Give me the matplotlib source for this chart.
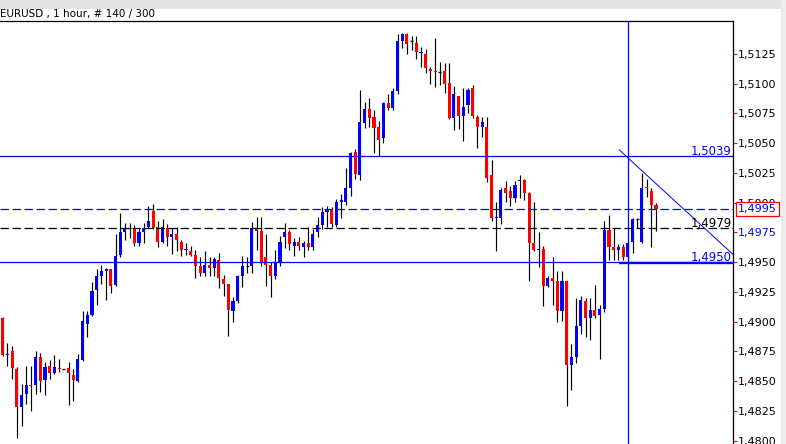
import matplotlib
matplotlib.use('Agg')
import matplotlib.pyplot as plt
from matplotlib.patches import Rectangle
import numpy as np

# ---------------- data (EURUSD, H1, 140 bars) ----------------
opens = [1.4903, 1.4872, 1.4875, 1.4860, 1.4828, 1.4839, 1.4847, 1.4847, 1.4870, 1.4851,
         1.4863, 1.4857, 1.4861, 1.4860, 1.4861, 1.4855, 1.4850, 1.4868, 1.4898, 1.4906,
         1.4927, 1.4938, 1.4943, 1.4944, 1.4931, 1.4956, 1.4975, 1.4979, 1.4979, 1.4966,
         1.4975, 1.4980, 1.4993, 1.4980, 1.4967, 1.4979, 1.4971, 1.4974, 1.4967, 1.4960,
         1.4959, 1.4956, 1.4947, 1.4941, 1.4948, 1.4945, 1.4952, 1.4936, 1.4932, 1.4909,
         1.4917, 1.4938, 1.4947, 1.4947, 1.4978, 1.4976, 1.4954, 1.4948, 1.4938, 1.4950,
         1.4971, 1.4975, 1.4964, 1.4967, 1.4963, 1.4966, 1.4963, 1.4975, 1.4981, 1.4992,
         1.4995, 1.4981, 1.5001, 1.5001, 1.5012, 1.5043, 1.5023, 1.5067, 1.5079, 1.5072,
         1.5064, 1.5054, 1.5084, 1.5080, 1.5094, 1.5136, 1.5142, 1.5136, 1.5134, 1.5126,
         1.5125, 1.5112, 1.5111, 1.5110, 1.5111, 1.5101, 1.5071, 1.5090, 1.5073, 1.5082,
         1.5096, 1.5072, 1.5064, 1.5064, 1.5023, 1.4987, 1.4987, 1.5012, 1.5010, 1.5004,
         1.5018, 1.5019, 1.5008, 1.4966, 1.4960, 1.4961, 1.4930, 1.4937, 1.4934, 1.4909,
         1.4934, 1.4864, 1.4870, 1.4896, 1.4917, 1.4903, 1.4910, 1.4906, 1.4911, 1.4977,
         1.4963, 1.4960, 1.4963, 1.4954, 1.4967, 1.4986, 1.4967, 1.5013, 1.5010, 1.4998]
highs = [1.4904, 1.4882, 1.4880, 1.4862, 1.4848, 1.4863, 1.4863, 1.4875, 1.4874, 1.4866,
         1.4868, 1.4872, 1.4869, 1.4860, 1.4866, 1.4860, 1.4873, 1.4909, 1.4909, 1.4933,
         1.4944, 1.4948, 1.4945, 1.4944, 1.4974, 1.4991, 1.4983, 1.4983, 1.4981, 1.4979,
         1.4983, 1.4997, 1.4999, 1.4985, 1.4986, 1.4982, 1.4979, 1.4980, 1.4969, 1.4966,
         1.4964, 1.4960, 1.4954, 1.4959, 1.4954, 1.4954, 1.4958, 1.4939, 1.4932, 1.4921,
         1.4939, 1.4955, 1.4954, 1.4984, 1.4988, 1.4988, 1.4974, 1.4950, 1.4960, 1.4972,
         1.4983, 1.4977, 1.4970, 1.4971, 1.4968, 1.4980, 1.4978, 1.4988, 1.4996, 1.4997,
         1.4996, 1.5003, 1.5007, 1.5029, 1.5043, 1.5045, 1.5095, 1.5085, 1.5088, 1.5078,
         1.5069, 1.5085, 1.5091, 1.5096, 1.5142, 1.5143, 1.5143, 1.5140, 1.5140, 1.5131,
         1.5129, 1.5114, 1.5138, 1.5118, 1.5117, 1.5117, 1.5098, 1.5090, 1.5096, 1.5096,
         1.5099, 1.5074, 1.5072, 1.5072, 1.5036, 1.5001, 1.5012, 1.5018, 1.5014, 1.5018,
         1.5023, 1.5020, 1.5009, 1.5001, 1.4975, 1.4964, 1.4938, 1.4954, 1.4943, 1.4943,
         1.4934, 1.4881, 1.4920, 1.4922, 1.4920, 1.4920, 1.4931, 1.4914, 1.4985, 1.4990,
         1.4979, 1.4965, 1.4965, 1.4967, 1.4987, 1.4987, 1.5025, 1.5020, 1.5012, 1.5000]
lows = [1.4871, 1.4863, 1.4852, 1.4802, 1.4812, 1.4831, 1.4825, 1.4839, 1.4841, 1.4838,
        1.4852, 1.4856, 1.4858, 1.4860, 1.4830, 1.4833, 1.4849, 1.4867, 1.4887, 1.4905,
        1.4914, 1.4932, 1.4918, 1.4924, 1.4930, 1.4954, 1.4969, 1.4970, 1.4964, 1.4964,
        1.4966, 1.4979, 1.4978, 1.4963, 1.4966, 1.4964, 1.4957, 1.4959, 1.4955, 1.4956,
        1.4955, 1.4937, 1.4938, 1.4938, 1.4938, 1.4938, 1.4928, 1.4922, 1.4888, 1.4900,
        1.4916, 1.4929, 1.4941, 1.4941, 1.4960, 1.4947, 1.4930, 1.4921, 1.4936, 1.4947,
        1.4962, 1.4960, 1.4955, 1.4960, 1.4954, 1.4960, 1.4960, 1.4971, 1.4978, 1.4980,
        1.4980, 1.4980, 1.4987, 1.4998, 1.5006, 1.5020, 1.5019, 1.5063, 1.5064, 1.5042,
        1.5039, 1.5050, 1.5078, 1.5078, 1.5091, 1.5130, 1.5125, 1.5128, 1.5121, 1.5114,
        1.5109, 1.5100, 1.5097, 1.5099, 1.5092, 1.5070, 1.5061, 1.5062, 1.5052, 1.5075,
        1.5071, 1.5046, 1.5055, 1.5017, 1.4985, 1.4959, 1.4982, 1.5001, 1.4997, 1.5001,
        1.5004, 1.5002, 1.4934, 1.4959, 1.4946, 1.4913, 1.4929, 1.4914, 1.4900, 1.4901,
        1.4829, 1.4843, 1.4865, 1.4890, 1.4887, 1.4885, 1.4903, 1.4869, 1.4908, 1.4952,
        1.4952, 1.4952, 1.4952, 1.4951, 1.4958, 1.4979, 1.4966, 1.5005, 1.4963, 1.4976]
closes = [1.4872, 1.4873, 1.4861, 1.4828, 1.4838, 1.4847, 1.4846, 1.4870, 1.4850, 1.4862,
          1.4857, 1.4862, 1.4860, 1.4860, 1.4857, 1.4851, 1.4869, 1.4901, 1.4906, 1.4926,
          1.4938, 1.4943, 1.4944, 1.4930, 1.4955, 1.4975, 1.4979, 1.4979, 1.4966, 1.4975,
          1.4979, 1.4985, 1.4979, 1.4967, 1.4980, 1.4971, 1.4974, 1.4969, 1.4960, 1.4961,
          1.4956, 1.4947, 1.4941, 1.4948, 1.4945, 1.4953, 1.4937, 1.4932, 1.4910, 1.4917,
          1.4938, 1.4947, 1.4947, 1.4979, 1.4976, 1.4950, 1.4948, 1.4938, 1.4950, 1.4967,
          1.4975, 1.4965, 1.4967, 1.4964, 1.4966, 1.4963, 1.4974, 1.4981, 1.4992, 1.4995,
          1.4982, 1.5001, 1.5002, 1.5012, 1.5042, 1.5024, 1.5068, 1.5079, 1.5071, 1.5063,
          1.5053, 1.5084, 1.5080, 1.5094, 1.5136, 1.5142, 1.5133, 1.5136, 1.5127, 1.5127,
          1.5113, 1.5111, 1.5110, 1.5110, 1.5100, 1.5071, 1.5091, 1.5073, 1.5080, 1.5095,
          1.5073, 1.5064, 1.5068, 1.5021, 1.4987, 1.4988, 1.5011, 1.5008, 1.5004, 1.5015,
          1.5019, 1.5008, 1.4966, 1.4960, 1.4961, 1.4930, 1.4937, 1.4934, 1.4909, 1.4934,
          1.4864, 1.4870, 1.4896, 1.4918, 1.4903, 1.4910, 1.4905, 1.4911, 1.4977, 1.4963,
          1.4960, 1.4963, 1.4954, 1.4966, 1.4986, 1.4986, 1.5012, 1.5012, 1.4998, 1.4995]

resistance_level = 1.5039
bid_level = 1.4995
mid_level = 1.4979
support_level = 1.4950
vline_bar = 133
trend_start = (131.2, 1.50443)
trend_end = (155.4, 1.49565)
support_ray_start = 131.1

tick_values = [1.4800, 1.4825, 1.4850, 1.4875, 1.4900, 1.4925, 1.4950, 1.4975,
               1.5000, 1.5025, 1.5050, 1.5075, 1.5100, 1.5125]
title = "EURUSD , 1 hour, # 140 / 300"

# ---------------- figure ----------------
W, H = 786, 444
fig = plt.figure(figsize=(W / 100, H / 100), dpi=100)
fig.patch.set_facecolor('white')
ax = fig.add_axes([0, 0, 733 / W, (H - 21) / H])
ax.set_facecolor('white')

BLUE = '#0000FF'
RED = '#FF0000'

o = np.array(opens); h = np.array(highs); l = np.array(lows); c = np.array(closes)
x = np.arange(len(o))
up = c > o
dn = c < o
eq = c == o
bw = 0.66

ax.vlines(x, l, h, color='black', lw=0.85, zorder=2)
ax.bar(x[up], c[up] - o[up], bottom=o[up], width=bw, color=BLUE, lw=0, zorder=3,
       antialiased=False)
ax.bar(x[dn], o[dn] - c[dn], bottom=c[dn], width=bw, color=RED, lw=0, zorder=3,
       antialiased=False)
ax.hlines(o[eq], x[eq] - bw / 2, x[eq] + bw / 2, color='black', lw=0.9, zorder=3)

dash = (0, (6.7, 2.9))
ax.axhline(resistance_level, color=BLUE, lw=0.9, zorder=4)
ax.axhline(bid_level, color=BLUE, lw=0.9, ls=dash, zorder=4)
ax.axhline(mid_level, color='black', lw=0.9, ls=dash, zorder=4)
ax.axhline(support_level, color=BLUE, lw=0.9, zorder=4)
ax.hlines(support_level - 0.00004, support_ray_start, 160, color=BLUE, lw=1.7, zorder=4)
ax.axvline(vline_bar, color=BLUE, lw=0.9, zorder=4)
ax.plot([trend_start[0], trend_end[0]], [trend_start[1], trend_end[1]],
        color=BLUE, lw=0.7, zorder=4)

px_per_unit = 11900.0
ax.set_xlim(-2.7 / 4.7, (733 - 2.7) / 4.7)
ax.set_ylim(1.495 - (444 - 262.2) / px_per_unit, 1.495 + (262.2 - 21) / px_per_unit)

# line labels
ytr = ax.get_yaxis_transform()
off = 1.0 / px_per_unit
for lvl, col in [(resistance_level, BLUE), (mid_level, 'black'), (support_level, BLUE)]:
    ax.text(0.9985, lvl + off, f"{lvl:.4f}".replace('.', ','), transform=ytr,
            ha='right', va='baseline', fontsize=8.5, color=col, zorder=5,
            family='DejaVu Sans')

# axis
for s in ['left', 'bottom']:
    ax.spines[s].set_visible(False)
for s in ['top', 'right']:
    ax.spines[s].set_linewidth(0.9)
    ax.spines[s].set_color('black')
ax.set_xticks([])
ax.yaxis.tick_right()
ax.set_yticks(tick_values)
ax.set_yticklabels([f"{v:.4f}".replace('.', ',') for v in tick_values])
ax.tick_params(axis='y', colors=RED, labelcolor='black', length=3, width=0.8,
               pad=0.8, labelsize=8)
for v, lab in zip(tick_values, ax.get_yticklabels()):
    if abs(v - 1.4975) < 1e-9:
        lab.set_color(BLUE)

# bid price box on axis
ax.text(1.0068, bid_level, f"{bid_level:.4f}".replace('.', ','), transform=ytr,
        ha='left', va='center', fontsize=8, color=BLUE, clip_on=False, zorder=6,
        bbox=dict(boxstyle='square,pad=0.18', fc='white', ec=RED, lw=0.9))

# window chrome
fig.patches.append(Rectangle((0, 1 - 9 / H), 1, 9 / H, transform=fig.transFigure,
                             fc='#E4E4E4', ec='none', zorder=0))
fig.patches.append(Rectangle((781 / W, 0), 5 / W, 1, transform=fig.transFigure,
                             fc='#ECECEC', ec='none', zorder=0))
fig.text(0.0, 1 - 14.5 / H, title, ha='left', va='center', fontsize=7.5,
         color='black', family='DejaVu Sans')

fig.savefig('out.png', dpi=100)
